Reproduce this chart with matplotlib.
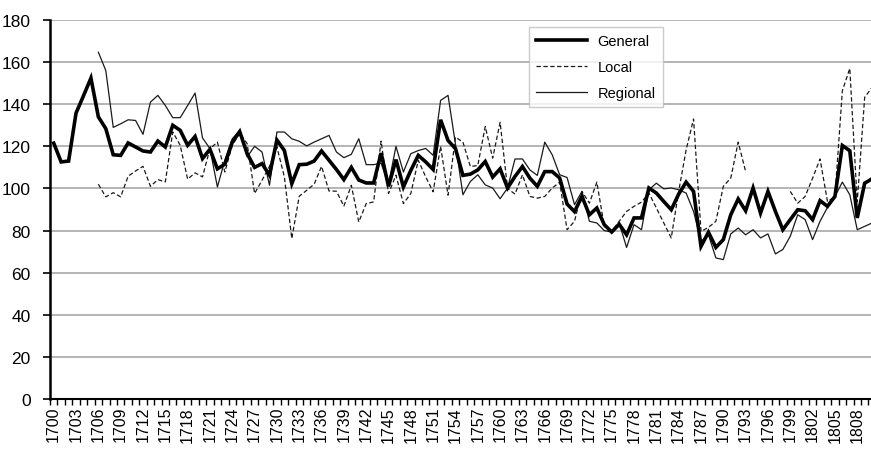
import numpy as np
import matplotlib
matplotlib.use("Agg")
import matplotlib.pyplot as plt
from matplotlib.ticker import FixedLocator

plt.rcParams['font.family'] = ['Liberation Sans', 'DejaVu Sans']

#%% data
years = list(range(1700, 1811))

general = [121.5, 112.6, 113, 135.8, 144, 152.4, 134, 128.4, 116, 115.7,
           121.6, 119.7, 117.8, 117.3, 122.5, 119.7, 130, 127.6, 120.5, 124.7,
           114.2, 118.6, 109.3, 111.5, 122, 127, 116.5, 110, 111.8, 106.3,
           123, 118, 102.3, 111.3, 111.5, 113, 117.8, 113.4, 109, 104.2,
           110, 104, 102.6, 102.6, 116.8, 101, 113.7, 100.7, 108.6, 115.7,
           112.6, 109, 132.6, 122.8, 118.9, 106.2, 106.8, 108.8, 112.8, 105.4,
           109.3, 100.2, 105.7, 110.4, 104.9, 101, 108, 108, 105, 92.6,
           89, 96.2, 87.5, 90.7, 82.8, 79.3, 83, 78, 86, 86,
           100.2, 97.8, 93.8, 89.9, 97.3, 103, 98.6, 72.5, 79.2, 72,
           75.7, 87.5, 95, 89.4, 100.2, 88.3, 98.6, 89.1, 80.4, 85.2,
           89.9, 89.4, 85.2, 94.2, 91.5, 96.2, 120.4, 117.9, 86, 102.5,
           104.6]

local = [None, None, None, None, None, None, 102, 96, 98, 96,
         105.8, 108.3, 110.5, 101, 104.2, 103.1, 126.8, 120.5, 104.4, 107.4,
         105.5, 118.9, 122, 107.8, 120.5, 126.3, 121.3, 97.6, 103.9, 110.5,
         119.7, 105.5, 76.2, 96.3, 99.1, 102, 110.5, 98.8, 98.7, 91.6,
         101.5, 84.1, 92.8, 93.6, 122.5, 97.6, 106.3, 92.8, 97.6, 113.4,
         105.5, 98.4, 120, 96.8, 124.4, 122, 110.4, 110.9, 129.4, 114.4,
         131.4, 100, 97.3, 106.5, 96.2, 95.4, 96.2, 100.2, 103, 80.4,
         84.4, 98.6, 93, 103, 82, 79.6, 84.4, 89.1, 91.5, 93.5,
         97.8, 90.7, 83.6, 76.5, 98.6, 118.3, 133, 79.6, 81.5, 84.4,
         101, 104.9, 122, 108, None, None, None, None, None, 98.6,
         93, 96.2, 104.9, 114, 93.8, 96, 146.4, 157, 93.6, 143.3,
         148]

regional = [None, None, None, None, None, None, 164.7, 156, 129, 130.7,
            132.6, 132.3, 125.7, 141, 144.2, 139.4, 133.6, 133.6, 139.4, 145.3,
            124, 118.9, 100.7, 113.4, 123.6, 127.6, 115, 120, 117.3, 101.5,
            126.8, 126.8, 123.6, 122.4, 120.2, 122, 123.6, 125.2, 117.3, 114.6,
            116.2, 123.6, 111.3, 111.3, 112, 102, 120, 107.8, 116.5, 118,
            119, 115.7, 141.8, 144.2, 121, 97, 103.3, 106.5, 101.7, 100.2,
            95.1, 100.2, 114, 114, 108.8, 106.2, 122, 116, 106.5, 105.2,
            92.3, 98.6, 84.4, 83.6, 80, 79.3, 83.6, 72, 82.8, 80.4,
            99.4, 102.5, 99.8, 100.2, 99.4, 97.8, 89.1, 74.9, 78, 67,
            66.2, 78.4, 81.2, 78, 80.4, 76.5, 78.4, 68.9, 71, 77.3,
            87.5, 85.2, 75.7, 84.4, 91, 96.2, 103, 97, 80.4, 82,
            83.6]

tolist = lambda v: np.array([np.nan if a is None else a for a in v], dtype=float)

#%% plot
fig = plt.figure(figsize=(8.71, 4.52), dpi=100)
ax = fig.add_axes([50/871, 1-400/452, 821/871, 379/452])

x = np.arange(len(years))
ax.plot(x, tolist(general), color='black', lw=2.6, label='General', zorder=4, solid_joinstyle='miter')
ax.plot(x, tolist(local), color='#1a1a1a', lw=0.9, ls=(0, (3.5, 2)), label='Local', zorder=3)
ax.plot(x, tolist(regional), color='#1a1a1a', lw=0.9, label='Regional', zorder=3)

ax.set_ylim(0, 180)
ax.set_xlim(-0.5, 109.85)
ax.set_yticks(range(0, 181, 20))
ax.yaxis.grid(True, color='#a8a8a8', lw=1.2)
ax.set_axisbelow(True)

# labels every 3rd year, tick marks between categories
ax.set_xticks(x[::3])
ax.set_xticklabels([str(y) for y in years[::3]], rotation=90, fontsize=11.5)
ax.xaxis.set_minor_locator(FixedLocator(np.arange(-0.5, len(years), 1)))
ax.tick_params(axis='x', which='major', length=0, pad=5)
ax.tick_params(axis='x', which='minor', length=4, width=1, direction='out')
ax.tick_params(axis='y', length=5, width=1.2, labelsize=12.5, pad=9)

for s in ['top', 'right']:
    ax.spines[s].set_visible(False)
ax.spines['left'].set_linewidth(1.8)
ax.spines['bottom'].set_linewidth(1.5)

leg = ax.legend(loc='upper left', bbox_to_anchor=(529/871, 1-28/452),
                bbox_transform=fig.transFigure, borderaxespad=0,
                frameon=True, fancybox=False, fontsize=10.5,
                handlelength=3.5, handletextpad=0.7, labelspacing=0.8,
                borderpad=0.5)
leg.get_frame().set_edgecolor('#bfbfbf')
leg.get_frame().set_linewidth(1.0)

plt.savefig('out.png', dpi=100)
